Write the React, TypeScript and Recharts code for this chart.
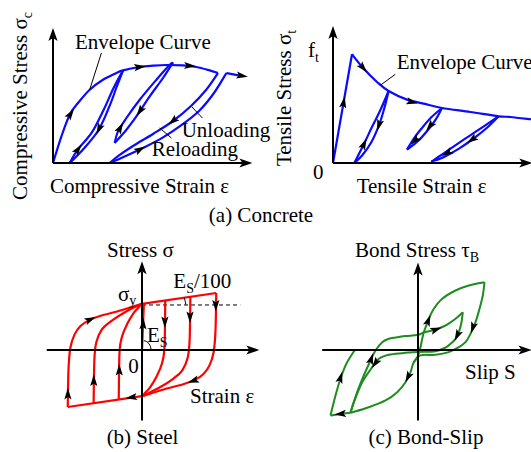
import React from 'react';
import { ComposedChart, Line, Scatter, XAxis, YAxis } from 'recharts';

type P = [number, number];
type A = [number, number, number, number]; // x, y, direction dx, dy (data units)

// ---------- (a) Concrete, compression ----------
const compAxisX: P[] = [[0, 0], [9.47, 0]];
const compAxisY: P[] = [[0, 0], [0, 6.25]];
const compAxisTips: A[] = [[9.47, 0, 1, 0], [0, 6.25, 0, 1]];
const compEnvelope: P[] = [[0, 0], [0.42, 1.33], [0.835, 2.415], [1.25, 3.0], [1.835, 3.665], [2.5, 4.165], [3.17, 4.5], [3.5, 4.63], [4.335, 4.8], [5.0, 4.865], [5.67, 4.9], [6.5, 4.88], [7.17, 4.8], [7.835, 4.63], [8.25, 4.5]];
const compTail: P[] = [[8.67, 4.5], [9.085, 4.415], [9.45, 4.36]];
const compLoop1Up: P[] = [[0.835, 0], [1.235, 0.665], [1.935, 1.515], [2.535, 2.665], [3.035, 3.765], [3.5, 4.63]];
const compLoop1Down: P[] = [[3.5, 4.63], [3.185, 3.815], [2.835, 2.865], [2.285, 1.665], [1.535, 0.715], [0.835, 0]];
const compLoop2Down: P[] = [[6.0, 5.03], [5.5, 4.25], [4.835, 3.33], [4.17, 2.33], [3.67, 1.665], [3.085, 1.0]];
const compLoop2Up: P[] = [[3.085, 1.0], [3.25, 1.58], [3.67, 2.25], [4.335, 3.165], [5.17, 4.165], [5.835, 4.915], [6.0, 5.03]];
const compLoop3Down: P[] = [[8.25, 4.5], [7.65, 3.65], [6.9, 2.85], [6.0, 2.1], [5.0, 1.45], [4.0, 0.85], [3.3, 0.38], [2.835, 0]];
const compLoop3Up: P[] = [[2.835, 0], [3.7, 0.38], [4.6, 0.8], [5.5, 1.28], [6.4, 1.88], [7.3, 2.6], [8.05, 3.5], [8.67, 4.5]];
const compLeaderEnv: P[] = [[2.42, 5.5], [1.835, 3.665]];
const compLeaderUnl: P[] = [[7.47, 2.25], [6.95, 2.8]];
const compLeaderRel: P[] = [[5.92, 1.25], [5.335, 1.75]];
const compArrows: A[] = [
  [0.88, 2.45, 0.4, 0.58], [4.335, 4.8, 1, 0.12], [6.835, 4.86, 1, -0.05], [9.45, 4.36, 1, -0.15],
  [2.3, 1.7, -0.4, -0.85], [1.25, 0.68, 0.45, 0.6],
  [4.35, 2.6, -0.6, -0.9], [3.36, 1.75, 0.3, 0.55],
  [6.0, 2.1, -0.95, -0.8], [4.35, 0.68, 0.9, 0.5],
];

// ---------- (a) Concrete, tension ----------
const tensAxisX: P[] = [[0, 0], [9.465, 0]];
const tensAxisY: P[] = [[0, 0], [0, 6.35]];
const tensAxisTips: A[] = [[9.465, 0, 1, 0], [0, 6.35, 0, 1]];
const tensRise: P[] = [[0, 0], [0.95, 5.435]];
const tensEnvelope: P[] = [[0.95, 5.435], [1.53, 4.72], [2.2, 4.05], [2.78, 3.6], [3.7, 3.17], [4.53, 2.97], [5.45, 2.75], [6.865, 2.55], [8.28, 2.335], [8.865, 2.3], [9.915, 2.185]];
const tensLoop1Up: P[] = [[1.065, 0], [1.565, 0.985], [1.965, 1.835], [2.365, 2.635], [2.78, 3.6]];
const tensLoop1Down: P[] = [[2.78, 3.6], [2.565, 2.735], [2.315, 1.935], [1.915, 1.035], [1.465, 0.385], [1.065, 0]];
const tensLoop2Down: P[] = [[5.45, 2.75], [5.14, 2.185], [4.715, 1.61], [4.24, 1.085], [3.7, 0.67]];
const tensLoop2Up: P[] = [[3.7, 0.67], [4.015, 1.185], [4.415, 1.71], [4.915, 2.285], [5.45, 2.75]];
const tensLoop3Upper: P[] = [[8.28, 2.335], [7.615, 1.885], [6.865, 1.385], [6.115, 0.885], [5.465, 0.435], [4.915, 0.06]];
const tensLoop3Lower: P[] = [[4.915, 0.06], [5.6, 0.33], [6.3, 0.72], [7.0, 1.2], [7.7, 1.76], [8.28, 2.335]];
const tensLeader: P[] = [[3.115, 4.435], [2.365, 3.885]];
const tensArrows: A[] = [
  [0.53, 3.03, 0.95, 5.435], [1.5, 4.76, 0.6, -0.7], [3.95, 3.05, 1, -0.25],
  [2.3, 1.9, -0.25, -0.8], [1.55, 0.95, 0.4, 0.85],
  [4.85, 1.85, -0.45, -0.55], [4.1, 1.13, -0.5, -0.5],
  [6.95, 1.17, -1, -0.7], [5.7, 0.5, -1, -0.55],
];

// ---------- (b) Steel ----------
const steelAxisX: P[] = [[-1.27, 0], [1.431, 0]];
const steelAxisY: P[] = [[0, -1.237], [0, 1.382]];
const steelAxisTips: A[] = [[1.431, 0, 1, 0], [0, 1.382, 0, 1]];
const steelUpper: P[] = [[0, 0.81], [0.99, 1.0]];
const steelLower: P[] = [[-0.99, -1.0], [0, -0.81]];
const steelDown1: P[] = [[0.31, 0.87], [0.3, 0.05], [0.265, -0.24], [0.2, -0.45], [0.11, -0.65], [0.03, -0.77], [0, -0.81]];
const steelDown2: P[] = [[0.645, 0.934], [0.635, 0.17], [0.61, -0.13], [0.535, -0.36], [0.42, -0.5], [0.245, -0.65], [0.06, -0.775], [0, -0.81]];
const steelDown3: P[] = [[0.99, 1.0], [0.98, 0.34], [0.955, -0.04], [0.9, -0.27], [0.82, -0.42], [0.71, -0.52], [0.55, -0.6], [0.33, -0.675], [0.11, -0.765], [0, -0.81]];
const steelUp1: P[] = [[-0.31, -0.87], [-0.3, -0.05], [-0.265, 0.24], [-0.2, 0.45], [-0.11, 0.65], [-0.03, 0.77], [0, 0.81]];
const steelUp2: P[] = [[-0.645, -0.934], [-0.635, -0.17], [-0.61, 0.13], [-0.535, 0.36], [-0.42, 0.5], [-0.245, 0.65], [-0.06, 0.775], [0, 0.81]];
const steelUp3: P[] = [[-0.99, -1.0], [-0.98, -0.34], [-0.955, 0.04], [-0.9, 0.27], [-0.82, 0.42], [-0.71, 0.52], [-0.55, 0.6], [-0.33, 0.675], [-0.11, 0.765], [0, 0.81]];
const steelElastic: P[] = [[0, 0], [0.025, 0.81]];
const steelYield: P[] = [[0, 0.79], [1.31, 0.79]];
const steelArrows: A[] = [
  [0.305, 0.49, 0, -1], [0.64, 0.58, 0, -1], [0.984, 0.78, 0, -1],
  [-0.988, -0.77, 0, 1], [-0.643, -0.535, 0, 1], [-0.303, -0.35, 0, 1],
  [-0.69, 0.535, 1, 0.6], [-0.14, -0.83, -1, -0.2], [0.684, -0.54, -1, -0.45],
  [0.015, 0.46, 0.025, 0.81],
];

// ---------- (c) Bond-slip ----------
const bondAxisX: P[] = [[-3.193, 0], [3.45, 0]];
const bondAxisY: P[] = [[0, -2.35], [0, 2.583]];
const bondAxisTips: A[] = [[3.45, 0, 1, 0], [0, 2.583, 0, 1]];
const bondOuterLeft: P[] = [[-2.917, -2.183], [-2.75, -1.517], [-2.583, -0.95], [-2.383, -0.45], [-2.107, 0]];
const bondBottom: P[] = [[-2.25, -2.093], [-2.583, -2.133], [-2.917, -2.183]];
const bondInnerLeft: P[] = [[-2.25, -2.093], [-2.027, -1.407], [-1.807, -0.85], [-1.583, -0.35], [-1.417, -0.017], [-1.193, 0.26], [-0.973, 0.373], [-0.75, 0.417], [-0.417, 0.467], [-0.017, 0.5], [0.193, 0.593]];
const bondUpOuter: P[] = [[0.193, 0.593], [0.36, 1.04], [0.527, 1.373], [0.807, 1.707], [1.25, 1.983], [1.693, 2.15], [2.217, 2.26]];
const bondUpInner: P[] = [[0.193, 0.593], [0.473, 0.65], [0.917, 0.817], [1.25, 1.04], [1.493, 1.26]];
const bondDownOuter: P[] = [[2.217, 2.26], [2.16, 1.817], [2.05, 1.373], [1.917, 0.927], [1.75, 0.54], [1.583, 0.26], [1.36, 0.093], [1.027, -0.07], [0.583, -0.16], [0.083, -0.18], [-0.14, -0.407], [-0.25, -0.74], [-0.417, -1.073], [-0.693, -1.407], [-1.083, -1.683], [-1.64, -1.907], [-2.25, -2.093]];
const bondCentre: P[] = [[0.193, 0.593], [0.14, 0.373], [0.083, 0.093], [0.017, -0.15], [-0.05, -0.29], [-0.14, -0.407]];
const bondDownInner: P[] = [[1.493, 1.26], [1.45, 0.927], [1.36, 0.593], [1.25, 0.373], [1.083, 0.207], [0.917, 0.08], [0.583, -0.04], [-0.017, -0.07], [-0.527, -0.107], [-0.973, -0.16], [-1.307, -0.293], [-1.527, -0.573], [-1.86, -1.073], [-2.14, -1.74], [-2.25, -2.093]];
const bondArrows: A[] = [
  [-2.583, -0.92, 0.3, 1], [-2.583, -2.133, -1, -0.1], [-1.56, -0.3, 0.3, 0.9],
  [0.34, 0.98, 0.17, 0.45], [0.6, 0.68, 1, 0.35], [1.83, 0.75, -0.15, -0.45],
  [1.31, 0.49, -0.15, -0.3], [-0.33, -0.9, -0.2, -0.4], [-1.42, -0.44, -0.5, -0.7],
];

// ---------- helpers ----------
const FONT = '"Liberation Serif", "DejaVu Serif", serif';
const BLUE = '#0a0aff';
const RED = '#ff0000';
const GREEN = '#1e8c1e';
const BLACK = '#000000';

const catmull = (context: any) => {
  let pts: number[][] = [];
  return {
    areaStart() {},
    areaEnd() {},
    lineStart() { pts = []; },
    point(x: number, y: number) { pts.push([x, y]); },
    lineEnd() {
      const n = pts.length;
      if (!n) return;
      context.moveTo(pts[0][0], pts[0][1]);
      for (let i = 0; i < n - 1; i++) {
        const p0 = pts[i - 1] || pts[i];
        const p1 = pts[i];
        const p2 = pts[i + 1];
        const p3 = pts[i + 2] || p2;
        context.bezierCurveTo(
          p1[0] + (p2[0] - p0[0]) / 6, p1[1] + (p2[1] - p0[1]) / 6,
          p2[0] - (p3[0] - p1[0]) / 6, p2[1] - (p3[1] - p1[1]) / 6,
          p2[0], p2[1],
        );
      }
    },
  };
};

const toXY = (a: P[]) => a.map(([x, y]) => ({ x, y }));
const toArrow = (a: A[]) => a.map(([x, y, dx, dy]) => ({ x, y, dx, dy }));

interface Cfg { left: number; top: number; width: number; height: number; x: [number, number]; y: [number, number] }
interface S { data: P[]; color: string; w: number; smooth?: boolean; dash?: string }

const cfgComp: Cfg = { left: 43.3, top: 19.3, width: 220, height: 151, x: [-0.5, 10.5], y: [-0.35, 7.2] };
const cfgTens: Cfg = { left: 322.7, top: 18.7, width: 208.3, height: 151.3, x: [-0.5, 9.915], y: [-0.365, 7.2] };
const cfgSteel: Cfg = { left: 40, top: 254.5, width: 225, height: 171, x: [-1.36, 1.64], y: [-1.3333, 1.6667] };
const cfgBond: Cfg = { left: 317.5, top: 254.5, width: 213.5, height: 170, x: [-3.3333, 3.7833], y: [-2.5, 3.1667] };

function Panel({ cfg, series, arrows, tips }: { cfg: Cfg; series: S[]; arrows: A[]; tips: A[] }) {
  const kx = cfg.width / (cfg.x[1] - cfg.x[0]);
  const ky = cfg.height / (cfg.y[1] - cfg.y[0]);
  const head = (d: string) => (p: any) => {
    const q = p.payload || {};
    const ang = (Math.atan2(-q.dy * ky, q.dx * kx) * 180) / Math.PI;
    return <path d={d} transform={`translate(${p.cx},${p.cy}) rotate(${ang})`} fill={BLACK} stroke="none" />;
  };
  return (
    <div style={{ position: 'absolute', left: cfg.left, top: cfg.top, width: cfg.width, height: cfg.height }}>
      <ComposedChart width={cfg.width} height={cfg.height} margin={{ top: 0, right: 0, bottom: 0, left: 0 }}>
        <XAxis type="number" dataKey="x" domain={cfg.x} allowDataOverflow hide />
        <YAxis type="number" domain={cfg.y} allowDataOverflow hide />
        {series.map((s, i) => (
          <Line
            key={i}
            data={toXY(s.data)}
            dataKey="y"
            type={s.smooth ? (catmull as any) : 'linear'}
            stroke={s.color}
            strokeWidth={s.w}
            strokeDasharray={s.dash}
            strokeLinejoin="round"
            dot={false}
            activeDot={false}
            isAnimationActive={false}
          />
        ))}
        <Scatter data={toArrow(arrows)} dataKey="y" shape={head('M6,0 L-5.5,-3.6 L-3.2,0 L-5.5,3.6 Z')} isAnimationActive={false} />
        <Scatter data={toArrow(tips)} dataKey="y" shape={head('M10,0 L-3,-4.6 L0,0 L-3,4.6 Z')} isAnimationActive={false} />
      </ComposedChart>
    </div>
  );
}

const curve = (data: P[], color: string, w = 2.2): S => ({ data, color, w, smooth: true });
const straight = (data: P[], color: string, w = 2.2, dash?: string): S => ({ data, color, w, dash });

const compSeries: S[] = [
  curve(compEnvelope, BLUE), curve(compTail, BLUE),
  curve(compLoop1Up, BLUE), curve(compLoop1Down, BLUE),
  curve(compLoop2Down, BLUE), curve(compLoop2Up, BLUE),
  curve(compLoop3Down, BLUE), curve(compLoop3Up, BLUE),
  straight(compLeaderEnv, BLACK, 1), straight(compLeaderUnl, BLACK, 1), straight(compLeaderRel, BLACK, 1),
  straight(compAxisX, BLACK, 2), straight(compAxisY, BLACK, 2),
];
const tensSeries: S[] = [
  straight(tensRise, BLUE), curve(tensEnvelope, BLUE),
  curve(tensLoop1Up, BLUE), curve(tensLoop1Down, BLUE),
  curve(tensLoop2Down, BLUE), curve(tensLoop2Up, BLUE),
  curve(tensLoop3Upper, BLUE), curve(tensLoop3Lower, BLUE),
  straight(tensLeader, BLACK, 1),
  straight(tensAxisX, BLACK, 2), straight(tensAxisY, BLACK, 2),
];
const steelSeries: S[] = [
  straight(steelYield, BLACK, 1, '4 3'),
  straight(steelUpper, RED), straight(steelLower, RED),
  curve(steelDown1, RED), curve(steelDown2, RED), curve(steelDown3, RED),
  curve(steelUp1, RED), curve(steelUp2, RED), curve(steelUp3, RED),
  straight(steelElastic, RED),
  straight(steelAxisX, BLACK, 2), straight(steelAxisY, BLACK, 2),
];
const bondSeries: S[] = [
  curve(bondOuterLeft, GREEN, 2), curve(bondBottom, GREEN, 2), curve(bondInnerLeft, GREEN, 2),
  curve(bondUpOuter, GREEN, 2), curve(bondUpInner, GREEN, 2), curve(bondDownOuter, GREEN, 2),
  curve(bondCentre, GREEN, 2), curve(bondDownInner, GREEN, 2),
  straight(bondAxisX, BLACK, 2), straight(bondAxisY, BLACK, 2),
];

const SUB = 14;
const TS: React.CSSProperties = { fontFamily: FONT, fontSize: 21 };

export default function App() {
  return (
    <div style={{ position: 'absolute', left: 0, top: 0, width: 531, height: 452, background: '#fff', overflow: 'hidden', fontFamily: FONT }}>
      <Panel cfg={cfgComp} series={compSeries} arrows={compArrows} tips={compAxisTips} />
      <Panel cfg={cfgTens} series={tensSeries} arrows={tensArrows} tips={tensAxisTips} />
      <Panel cfg={cfgSteel} series={steelSeries} arrows={steelArrows} tips={steelAxisTips} />
      <Panel cfg={cfgBond} series={bondSeries} arrows={bondArrows} tips={bondAxisTips} />
      <svg width={531} height={452} style={{ position: 'absolute', left: 0, top: 0, pointerEvents: 'none' }} fill="#000">
        {/* (a) compression */}
        <text style={TS} transform="translate(27,106) rotate(-90)" textAnchor="middle">
          Compressive Stress σ<tspan fontSize={SUB} dy={5}>c</tspan>
        </text>
        <text style={TS} x={75} y={49}>Envelope Curve</text>
        <text style={TS} x={181.7} y={136.5}>Unloading</text>
        <text style={TS} x={151.7} y={156.2}>Reloading</text>
        <text style={TS} x={50} y={192.5}>Compressive Strain ε</text>
        {/* (a) tension */}
        <text style={TS} transform="translate(291,98) rotate(-90)" textAnchor="middle">
          Tensile Stress σ<tspan fontSize={SUB} dy={5}>t</tspan>
        </text>
        <text style={TS} x={308} y={57}>f<tspan fontSize={SUB} dy={5}>t</tspan></text>
        <text style={TS} x={313} y={179}>0</text>
        <text style={TS} x={396.7} y={69}>Envelope Curve</text>
        <text style={TS} x={356.7} y={192.5}>Tensile Strain ε</text>
        <text style={TS} x={261} y={222} textAnchor="middle">(a) Concrete</text>
        {/* (b) steel */}
        <text style={TS} x={107} y={256.7}>Stress σ</text>
        <text style={TS} x={173.3} y={288.3}>E<tspan fontSize={SUB} dy={5}>S</tspan><tspan dy={-5}>/100</tspan></text>
        <text style={TS} x={118} y={301}>σ<tspan fontSize={SUB} dy={4}>y</tspan></text>
        <text style={TS} x={147} y={342}>E<tspan fontSize={SUB} dy={5}>S</tspan></text>
        <text style={TS} x={128.3} y={373}>0</text>
        <text style={TS} x={190} y={402.7}>Strain ε</text>
        <text style={TS} x={142.5} y={444} textAnchor="middle">(b) Steel</text>
        <path d="M 143.8 340.5 A 9 9 0 0 1 151 349.5" stroke="#000" strokeWidth={1} fill="none" />
        <path d="M 184.3 297.8 A 43 43 0 0 1 185.8 304.6" stroke="#000" strokeWidth={1} fill="none" />
        {/* (c) bond-slip */}
        <text style={TS} x={355} y={256.7}>Bond Stress τ<tspan fontSize={SUB} dy={5}>B</tspan></text>
        <text style={TS} x={465} y={379.3}>Slip S</text>
        <text style={TS} x={426} y={444} textAnchor="middle">(c) Bond-Slip</text>
      </svg>
    </div>
  );
}
